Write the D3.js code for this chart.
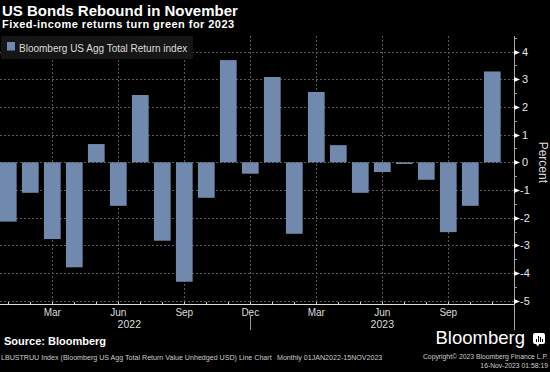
<!DOCTYPE html>
<html>
<head>
<meta charset="utf-8">
<script src="https://cdn.jsdelivr.net/npm/d3@7"></script>
<style>
  body { margin: 0; background: #000; }
  svg { display: block; font-family: "Liberation Sans", Arial, sans-serif; }
</style>
</head>
<body>
<svg width="550" height="372"></svg>
<script>
// monthly total returns, percent
var months = ["Jan 2022","Feb 2022","Mar 2022","Apr 2022","May 2022","Jun 2022","Jul 2022","Aug 2022",
  "Sep 2022","Oct 2022","Nov 2022","Dec 2022","Jan 2023","Feb 2023","Mar 2023","Apr 2023",
  "May 2023","Jun 2023","Jul 2023","Aug 2023","Sep 2023","Oct 2023","Nov 2023"];
var returns = [-2.14, -1.10, -2.77, -3.79, 0.66, -1.57, 2.43, -2.83, -4.31, -1.28, 3.69, -0.41,
  3.08, -2.58, 2.54, 0.62, -1.10, -0.35, -0.06, -0.63, -2.52, -1.57, 3.28];
var monthLabels = ["Mar 2022","Jun 2022","Sep 2022","Dec 2022","Mar 2023","Jun 2023","Sep 2023"];
var years = [["2022", "Jan 2022", "Dec 2022"], ["2023", "Jan 2023", "Nov 2023"]];
var yTicks = [4, 3, 2, 1, 0, -1, -2, -3, -4, -5];

var svg = d3.select("svg");
var axisX = 514, plotTop = 36, plotBottom = 305;

var x = d3.scaleBand()
    .domain(months)
    .range([-2.7, 503.3])
    .paddingInner(0.24)
    .paddingOuter(0.12);

var y = d3.scaleLinear()
    .domain([-5.15, 4.56])
    .range([plotBottom, plotTop]);

function cx(m) { return x(m) + x.bandwidth() / 2; }

// titles
svg.append("text").attr("x", 2).attr("y", 16)
    .attr("fill", "#fff").attr("font-weight", "bold").attr("font-size", 15)
    .text("US Bonds Rebound in November");
svg.append("text").attr("x", 2).attr("y", 27.5)
    .attr("fill", "#fff").attr("font-weight", "bold").attr("font-size", 11)
    .attr("letter-spacing", 0.45)
    .text("Fixed-income returns turn green for 2023");

// grid
var grid = svg.append("g").attr("stroke", "#5a5a5a").attr("stroke-dasharray", "2,2");
grid.selectAll(".h").data(yTicks).enter().append("line")
    .attr("x1", 0).attr("x2", axisX)
    .attr("y1", function (d) { return Math.round(y(d)) + 0.5; })
    .attr("y2", function (d) { return Math.round(y(d)) + 0.5; });
grid.selectAll(".v").data(monthLabels).enter().append("line")
    .attr("x1", function (d) { return Math.round(cx(d)) + 0.5; })
    .attr("x2", function (d) { return Math.round(cx(d)) + 0.5; })
    .attr("y1", plotTop).attr("y2", plotBottom);

// bars
svg.append("g").selectAll("rect")
    .data(months)
    .enter().append("rect")
    .attr("x", function (d) { return x(d); })
    .attr("width", x.bandwidth())
    .attr("y", function (d, i) { return y(Math.max(0, returns[i])); })
    .attr("height", function (d, i) { return Math.abs(y(returns[i]) - y(0)); })
    .attr("fill", "#7189ac");

// legend
var leg = svg.append("g");
leg.append("rect").attr("x", 1).attr("y", 36).attr("width", 192).attr("height", 23)
    .attr("rx", 2).attr("fill", "#161616");
leg.append("rect").attr("x", 7).attr("y", 42).attr("width", 8).attr("height", 8.5)
    .attr("fill", "#7189ac");
leg.append("text").attr("x", 19).attr("y", 51.5)
    .attr("fill", "#ddd").attr("font-size", 10)
    .text("Bloomberg US Agg Total Return index");

// x axis
svg.append("line").attr("x1", 0).attr("x2", axisX).attr("y1", plotBottom - 0.5).attr("y2", plotBottom - 0.5)
    .attr("stroke", "#ddd");
svg.append("g").selectAll("line").data(months).enter().append("line")
    .attr("x1", function (d) { return Math.round(cx(d)) + 0.5; })
    .attr("x2", function (d) { return Math.round(cx(d)) + 0.5; })
    .attr("y1", plotBottom - 3).attr("y2", plotBottom)
    .attr("stroke", "#ccc");
svg.append("g").selectAll("text").data(monthLabels).enter().append("text")
    .attr("x", function (d) { return cx(d); })
    .attr("y", 316)
    .attr("text-anchor", "middle").attr("fill", "#ddd").attr("font-size", 10)
    .text(function (d) { return d.split(" ")[0]; });
svg.append("g").selectAll("text").data(years).enter().append("text")
    .attr("x", function (d) { return (cx(d[1]) + cx(d[2])) / 2; })
    .attr("y", 327.5)
    .attr("text-anchor", "middle").attr("fill", "#ddd").attr("font-size", 10.5)
    .text(function (d) { return d[0]; });
// year separator
svg.append("line")
    .attr("x1", Math.round(cx("Dec 2022")) + 0.5).attr("x2", Math.round(cx("Dec 2022")) + 0.5)
    .attr("y1", 316).attr("y2", 330).attr("stroke", "#999");

// y axis
svg.append("line").attr("x1", axisX + 0.5).attr("x2", axisX + 0.5).attr("y1", plotTop).attr("y2", 330)
    .attr("stroke", "#aaa");
svg.append("g").selectAll("line").data(d3.range(-4.5, 4.6, 1)).enter().append("line")
    .attr("x1", axisX).attr("x2", axisX + 3)
    .attr("y1", function (d) { return Math.round(y(d)) + 0.5; })
    .attr("y2", function (d) { return Math.round(y(d)) + 0.5; })
    .attr("stroke", "#999");
var yt = svg.append("g").selectAll("g").data(yTicks).enter().append("g")
    .attr("transform", function (d) { return "translate(" + axisX + "," + (Math.round(y(d)) + 0.5) + ")"; });
yt.append("path").attr("d", "M0,-2.5L6,0L0,2.5Z").attr("fill", "#fff");
yt.append("text").attr("x", 11).attr("dy", "0.36em")
    .attr("text-anchor", "middle").attr("fill", "#e6e6e6").attr("font-size", 11)
    .text(function (d) { return d < 0 ? "-" + Math.abs(d) : d; });
svg.append("text")
    .attr("transform", "translate(539," + y(0) + ") rotate(90)")
    .attr("text-anchor", "middle").attr("fill", "#ddd").attr("font-size", 12)
    .text("Percent");

// footer
svg.append("text").attr("x", 4).attr("y", 345)
    .attr("fill", "#fff").attr("font-weight", "bold").attr("font-size", 11)
    .text("Source:  Bloomberg");
svg.append("text").attr("x", 1).attr("y", 360)
    .attr("fill", "#ccc").attr("font-size", 7.1)
    .text("LBUSTRUU Index (Bloomberg US Agg Total Return Value Unhedged USD) Line Chart");
svg.append("text").attr("x", 277).attr("y", 360)
    .attr("fill", "#ccc").attr("font-size", 7.1)
    .text("Monthly 01JAN2022-15NOV2023");
svg.append("text").attr("x", 525).attr("y", 344).attr("text-anchor", "end")
    .attr("fill", "#fff").attr("font-size", 18.5)
    .text("Bloomberg");
var logo = svg.append("g").attr("transform", "translate(533,333)");
logo.append("rect").attr("width", 12).attr("height", 11).attr("rx", 2).attr("fill", "#fff");
logo.append("path").attr("d", "M3,11L5,13.5L6,11Z").attr("fill", "#fff");
logo.append("g").selectAll("rect").data([[3, 6], [5, 3], [7, 4], [9, 6]]).enter().append("rect")
    .attr("x", function (d) { return d[0]; }).attr("y", function (d) { return d[1]; })
    .attr("width", 1).attr("height", function (d) { return 9 - d[1]; })
    .attr("fill", "#000");
svg.append("text").attr("x", 548).attr("y", 359).attr("text-anchor", "end")
    .attr("fill", "#ccc").attr("font-size", 6.8)
    .text("Copyright© 2023 Bloomberg Finance L.P.");
svg.append("text").attr("x", 548).attr("y", 368).attr("text-anchor", "end")
    .attr("fill", "#ccc").attr("font-size", 6.8)
    .text("16-Nov-2023 01:58:19");
</script>
</body>
</html>
